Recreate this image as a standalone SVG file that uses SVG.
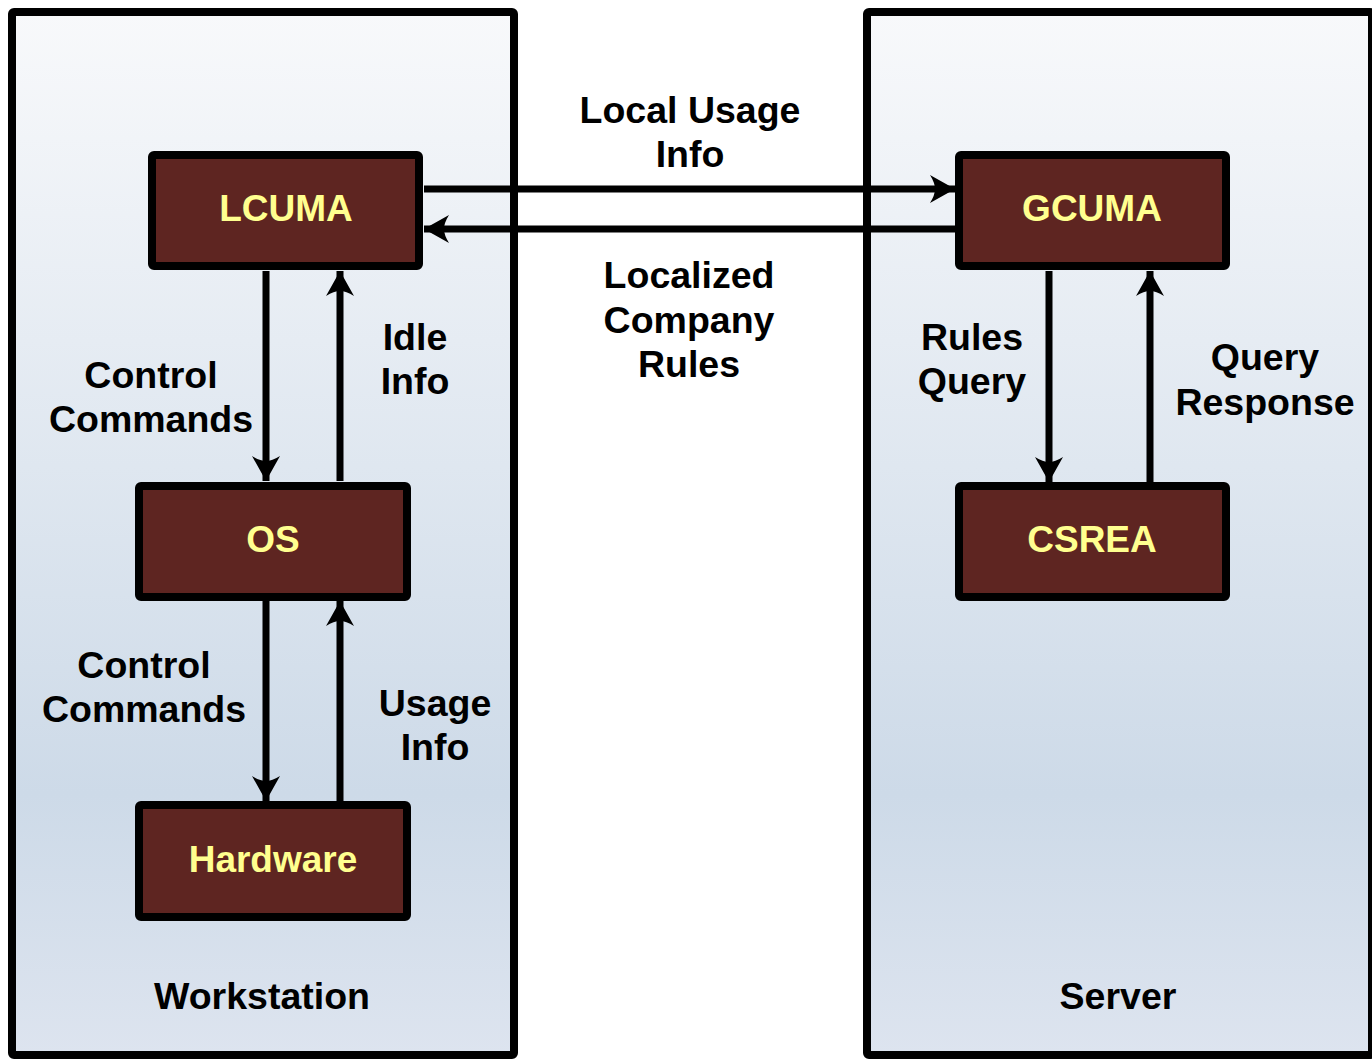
<svg xmlns="http://www.w3.org/2000/svg" width="1372" height="1059" viewBox="0 0 1372 1059">
<defs>
<linearGradient id="bg" x1="0" y1="0" x2="0" y2="1">
<stop offset="0" stop-color="#F8F9FB"/>
<stop offset="0.75" stop-color="#CDDAE8"/>
<stop offset="1" stop-color="#DDE4EF"/>
</linearGradient>
<marker id="ah" markerUnits="userSpaceOnUse" markerWidth="30" markerHeight="32" viewBox="-26 -16 28 32" refX="0" refY="0" orient="auto">
<path d="M0,0 L-25,-14 Q-20,-6 -20,0 Q-20,6 -25,14 Z" fill="#000"/>
</marker>
</defs>
<style>
.cont{fill:url(#bg);stroke:#000;stroke-width:8}
.node{fill:#5E2521;stroke:#000;stroke-width:8}
.nt{font-family:"Liberation Sans",Arial,sans-serif;font-weight:bold;font-size:37px;fill:#FFFF8F;text-anchor:middle}
.lt{font-family:"Liberation Sans",Arial,sans-serif;font-weight:bold;font-size:37.5px;fill:#000;text-anchor:middle}
.cn{stroke:#000;stroke-width:7;fill:none;marker-end:url(#ah)}
</style>
<rect width="1372" height="1059" fill="#fff"/>
<g id="workstation">
<rect class="cont" x="12" y="12" width="502" height="1043" rx="2"/>
<text class="lt" x="262" y="1009">Workstation</text>
</g>
<g id="server">
<rect class="cont" x="867" y="12" width="505" height="1043" rx="2"/>
<text class="lt" x="1118" y="1009">Server</text>
</g>
<g id="connectors">
<line class="cn" x1="424" y1="189" x2="955" y2="189"/>
<line class="cn" x1="955" y1="229" x2="424" y2="229"/>
<line class="cn" x1="266" y1="271" x2="266" y2="481"/>
<line class="cn" x1="340" y1="481" x2="340" y2="271"/>
<line class="cn" x1="266" y1="601" x2="266" y2="801"/>
<line class="cn" x1="340" y1="801" x2="340" y2="601"/>
<line class="cn" x1="1049" y1="271" x2="1049" y2="482"/>
<line class="cn" x1="1150" y1="482" x2="1150" y2="271"/>
<text class="lt" x="690" y="123">Local Usage</text>
<text class="lt" x="690" y="167">Info</text>
<text class="lt" x="689" y="288">Localized</text>
<text class="lt" x="689" y="333">Company</text>
<text class="lt" x="689" y="377">Rules</text>
<text class="lt" x="151" y="388">Control</text>
<text class="lt" x="151" y="432">Commands</text>
<text class="lt" x="415" y="350">Idle</text>
<text class="lt" x="415" y="394">Info</text>
<text class="lt" x="144" y="678">Control</text>
<text class="lt" x="144" y="722">Commands</text>
<text class="lt" x="435" y="716">Usage</text>
<text class="lt" x="435" y="760">Info</text>
<text class="lt" x="972" y="350">Rules</text>
<text class="lt" x="972" y="394">Query</text>
<text class="lt" x="1265" y="370">Query</text>
<text class="lt" x="1265" y="415">Response</text>
</g>
<g id="lcuma">
<rect class="node" x="152" y="155" width="267" height="111" rx="2"/>
<text class="nt" x="286" y="221">LCUMA</text>
</g>
<g id="gcuma">
<rect class="node" x="959" y="155" width="267" height="111" rx="2"/>
<text class="nt" x="1092" y="221">GCUMA</text>
</g>
<g id="os">
<rect class="node" x="139" y="486" width="268" height="111" rx="2"/>
<text class="nt" x="273" y="552">OS</text>
</g>
<g id="csrea">
<rect class="node" x="959" y="486" width="267" height="111" rx="2"/>
<text class="nt" x="1092" y="552">CSREA</text>
</g>
<g id="hardware">
<rect class="node" x="139" y="805" width="268" height="112" rx="2"/>
<text class="nt" x="273" y="872">Hardware</text>
</g>
</svg>
